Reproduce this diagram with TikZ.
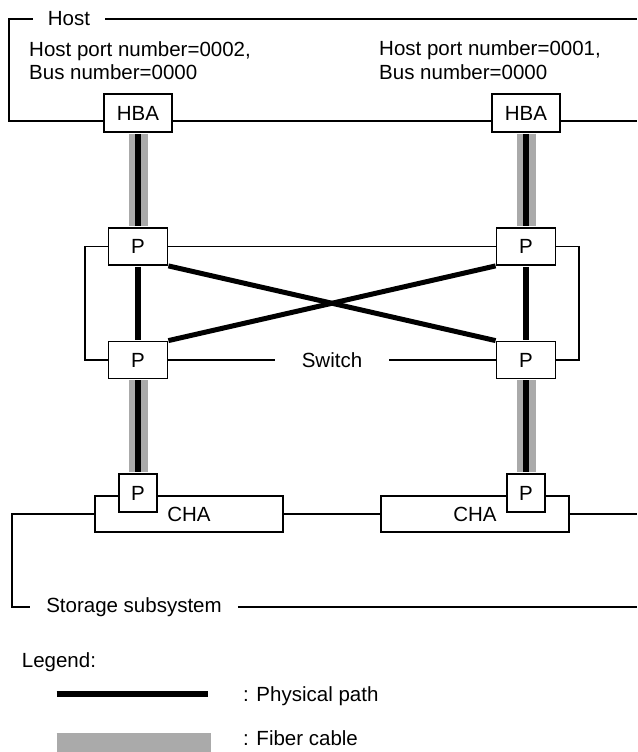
\documentclass[tikz,border=0pt]{standalone}
\usepackage{fontspec}
\setmainfont{Liberation Sans}
\usetikzlibrary{positioning,calc}
\definecolor{fibregray}{RGB}{170,170,170}
\newcommand{\diagfont}{\fontsize{20.5}{24}\selectfont}
\tikzset{
  thinline/.style={line width=1.8pt},
  hbabox/.style={draw,fill=white,line width=1.8pt,minimum width=68pt,
    minimum height=38pt,inner sep=0pt,font=\diagfont},
  portbox/.style={draw,fill=white,line width=1.8pt,minimum width=59pt,
    minimum height=37pt,inner sep=0pt,font=\diagfont},
  chaport/.style={draw,fill=white,line width=1.8pt,minimum width=38pt,
    minimum height=38pt,inner sep=0pt,font=\diagfont},
  chabox/.style={draw,fill=white,line width=1.8pt,minimum width=188pt,
    minimum height=36pt,inner sep=0pt,font=\diagfont},
  framelabel/.style={font=\diagfont,inner ysep=0pt},
  plaintext/.style={font=\diagfont,align=left,inner sep=0pt},
  fibre/.style={draw=fibregray,line width=19pt},
  physpath/.style={draw=black,line width=6pt},
  crosspath/.style={draw=black,line width=5pt}
}

\begin{document}
\begin{tikzpicture}[x=1pt,y=-1pt]
  \useasboundingbox (0,0) rectangle (637,752);
  % host frame
  \coordinate (hostTL) at (9,19);
  \coordinate (hostTR) at (637,19);
  \coordinate (hostBL) at (9,121);
  \coordinate (hostBR) at (637,121);
  \node[framelabel,inner xsep=15pt] (hostlbl) at (69,19) {Host};
  \node[plaintext,anchor=base west] (port2) at (29,80)
    {Host port number=0002,\\Bus number=0000};
  \node[plaintext,anchor=base west] (port1) at (379,79)
    {Host port number=0001,\\Bus number=0000};
  \node[hbabox] (hba1) at (138,113) {HBA};
  \node[hbabox] (hba2) at (526,113) {HBA};
  \draw[thinline] (hostlbl) -- (hostTL) -- (hostBL) -- (hostBL -| hba1.west);
  \draw[thinline] (hostlbl) -- (hostTR);
  \draw[thinline] (hostBL -| hba1.east) -- (hostBL -| hba2.west);
  \draw[thinline] (hostBL -| hba2.east) -- (hostBR);
  % switch
  \node[portbox] (p1) at (138,246.5) {P};
  \node[portbox] (p2) at (526,246.5) {P};
  \node[portbox] (p3) at (138,360) {P};
  \node[portbox] (p4) at (526,360) {P};
  \node[framelabel,inner xsep=27pt] (switchlbl) at (332,360) {Switch};
  \draw[thinline] (p1) -- (p2);
  \draw[thinline] (p3) -- (switchlbl) -- (p4);
  \draw[thinline] (p1.west) -- ++(-22.5,0) |- (p3.west);
  \draw[thinline] (p2.east) -- ++(22.5,0) |- (p4.east);
  \draw[crosspath] (p1.south east) -- (p4.north west);
  \draw[crosspath] (p3.north east) -- (p2.south west);
  % storage subsystem
  \node[chabox] (cha1) at (189,514) {CHA};
  \node[chabox] (cha2) at (475,514) {CHA};
  \node[chaport] (chap1) at (138,493) {P};
  \node[chaport] (chap2) at (526,493) {P};
  \coordinate (storeTL) at (11.7,514);
  \coordinate (storeBL) at (11.7,607);
  \coordinate (storeTR) at (637,514);
  \coordinate (storeBR) at (637,607);
  \node[framelabel,inner xsep=16pt] (storelbl) at (134,607) {Storage subsystem};
  \draw[thinline] (cha1) -- (storeTL) -- (storeBL) -- (storelbl);
  \draw[thinline] (storelbl) -- (storeBR);
  \draw[thinline] (cha1) -- (cha2);
  \draw[thinline] (cha2) -- (storeTR);
  % cables and paths
  \foreach \a/\b in {hba1/p1,p3/chap1,hba2/p2,p4/chap2}{
    \draw[fibre,shorten <=0.9pt,shorten >=0.9pt] (\a) -- (\b);
    \draw[physpath,shorten <=0.9pt,shorten >=0.9pt] (\a) -- (\b);
  }
  \draw[physpath,shorten <=0.9pt,shorten >=0.9pt] (p1) -- (p3);
  \draw[physpath,shorten <=0.9pt,shorten >=0.9pt] (p2) -- (p4);
  % legend
  \node[plaintext,anchor=base west] (legendlbl) at (21.7,667) {Legend:};
  \coordinate (physL) at (56.7,694);
  \coordinate (physR) at (208.3,694);
  \coordinate (fibreL) at (56.7,742.5);
  \coordinate (fibreR) at (210.7,742.5);
  \draw[physpath] (physL) -- (physR);
  \draw[fibre] (fibreL) -- (fibreR);
  \node[plaintext,anchor=base west] (physlbl) at (243,701) {: Physical path};
  \node[plaintext,anchor=base west] (fibrelbl) at (243,745.7) {: Fiber cable};
\end{tikzpicture}
\end{document}
